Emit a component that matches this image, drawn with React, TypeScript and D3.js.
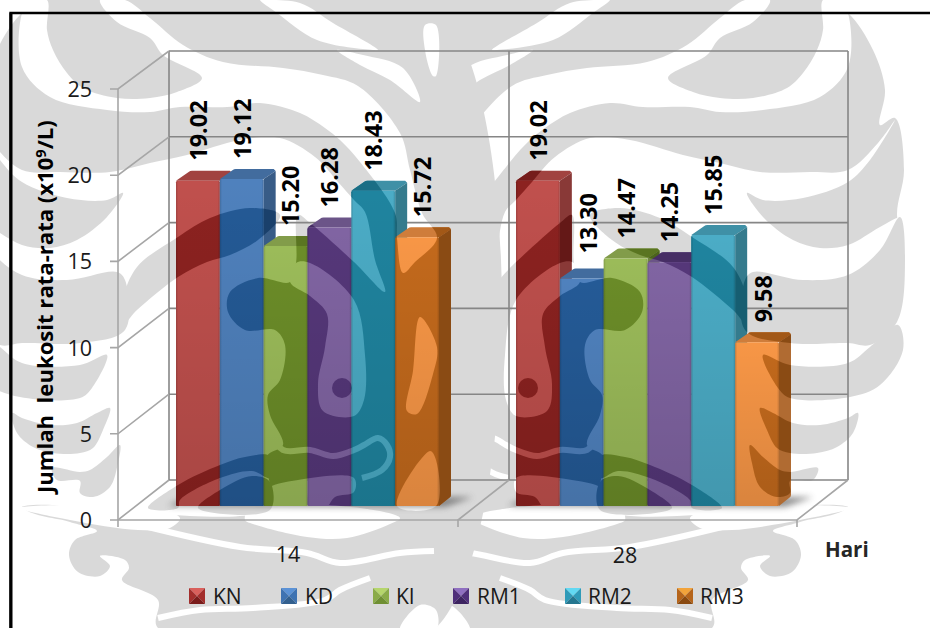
import React from "react";
import * as d3 from "d3";

// Observation days and treatment groups
const days = ["14", "28"];
const seriesNames = ["KN", "KD", "KI", "RM1", "RM2", "RM3"];
const valuesDay14 = [19.02, 19.12, 15.2, 16.28, 18.43, 15.72];
const valuesDay28 = [19.02, 13.3, 14.47, 14.25, 15.85, 9.58];
const labelsDay14 = ["19.02", "19.12", "15.20", "16.28", "18.43", "15.72"];
const labelsDay28 = ["19.02", "13.30", "14.47", "14.25", "15.85", "9.58"];
const yTicks = [0, 5, 10, 15, 20, 25];

const lightColors = ["#c0504d", "#4f81bd", "#9bbb59", "#8064a2", "#4bacc6", "#f79646"];
const darkColors = ["#8c2220", "#245a96", "#6b8c28", "#553779", "#1f849f", "#c2691c"];
const legendTops = ["#d9605c", "#5b92d6", "#b5d56c", "#8f6fc0", "#62d8f2", "#f2a33a"];
const legendSides = ["#a32e2c", "#3f73b2", "#8aab48", "#4f2f7a", "#2f9ab8", "#b5641a"];
const legendBottoms = ["#7a1c1b", "#33608f", "#6f8f33", "#3d2460", "#25768f", "#8a4a10"];

// Nudges of the rotated value labels away from their bar centres
const labelShiftX = [[0, 0, 4, 0, 0, 5], [0, 6, 0, 0, 0, 6]];
const labelShiftY = [[0, 0, 0, 0, 0, 0], [0, -5, 0, 0, 0, 0]];

// Outlines of the seal printed behind the page: right half, mirrored about the centre
type Pt = [number, number];
const sealOutline: Pt[] = [[434, 0], [823, 0], [848, 13], [873, 50], [885, 90], [880, 125], [895, 118], [904, 170], [897, 215], [906, 260], [898, 325], [903, 350], [880, 385], [858, 415], [850, 450], [850, 505], [800, 522], [773, 531], [795, 540], [801, 555], [792, 572], [770, 576], [760, 566], [770, 556], [745, 560], [741, 568], [748, 580], [712, 600], [712, 628], [434, 628]];
const sealGaps: Pt[][] = [
  [[433, 238], [448, 213], [460, 170], [470, 133], [512, 86], [547, 75], [587, 68], [647, 62], [687, 45], [720, 18], [745, 0], [770, 0], [753, 22], [720, 38], [707, 55], [668, 78], [693, 92], [720, 98], [753, 98], [787, 88], [803, 73], [817, 50], [823, 30], [823, 0], [840, 0], [848, 13], [848, 67], [820, 97], [763, 110], [720, 112], [690, 107], [643, 107], [610, 103], [570, 113], [545, 128], [530, 140], [510, 162], [475, 213], [473, 238], [467, 273], [455, 262]],
  [[505, 212], [516, 200], [532, 182], [555, 157], [590, 138], [630, 140], [683, 155], [720, 163], [760, 172], [810, 172], [848, 170], [878, 143], [895, 120], [870, 160], [848, 182], [803, 198], [763, 200], [747, 193], [763, 217], [793, 240], [820, 248], [848, 245], [880, 227], [900, 217], [912, 217], [912, 520], [850, 520], [850, 508], [603, 508], [603, 456], [587, 445], [600, 415], [602, 395], [590, 380], [585, 345], [595, 330], [625, 330], [642, 312], [640, 292], [612, 278], [580, 282], [574, 263], [572, 215], [560, 223], [516, 262], [485, 292], [495, 260]],
  [[505, 355], [516, 300], [560, 263], [574, 263], [580, 282], [560, 296], [543, 314], [545, 347], [552, 384], [547, 411], [516, 416], [506, 400]],
  [[492, 50], [537, 23], [570, 3], [607, 0], [610, 0], [593, 13], [553, 40], [497, 50]],
  [[450, 102], [467, 68], [507, 55], [533, 50], [510, 65], [480, 80]],
  [[434, 25], [445, 25], [445, 50], [437, 76], [434, 76]],
  [[516, 478], [572, 480], [604, 490], [604, 508], [545, 508], [535, 497], [516, 492]],
  [[510, 508], [620, 508], [625, 520], [617, 524], [563, 537], [523, 538], [480, 524], [470, 518]],
  [[722, 508], [850, 508], [800, 520], [732, 530], [700, 528], [690, 518]],
  [[434, 630], [434, 610], [450, 605], [470, 630]],
  [[450, 317], [433, 347], [437, 374], [453, 414], [463, 411], [457, 371]],
  [[473, 506], [440, 451], [434, 460], [434, 506]],
];
const sealThinGaps: Pt[][] = [
  [[508, 478], [488, 470], [480, 457], [483, 445], [492, 438], [506, 445], [516, 450], [537, 456], [560, 450], [587, 450], [600, 433]],
  [[436, 551], [470, 553], [530, 563], [563, 553], [630, 547], [730, 525]],
  [[500, 578], [530, 590], [545, 600], [617, 608], [670, 610], [712, 618]],
];
const sealPatches: Pt[][] = [
  [[590, 215], [620, 208], [660, 218], [692, 237], [733, 267], [747, 300], [745, 322], [733, 310], [692, 277], [663, 262], [640, 255], [612, 240]],
  [[745, 280], [753, 272], [803, 280], [848, 275], [880, 250], [900, 217], [905, 260], [897, 322], [870, 345], [848, 343], [790, 343], [745, 330]],
  [[763, 355], [790, 365], [848, 363], [870, 347], [898, 325], [903, 350], [880, 385], [850, 397], [790, 398], [778, 388]],
  [[760, 408], [773, 413], [793, 423], [820, 425], [848, 418], [858, 413], [853, 433], [837, 447], [817, 453], [790, 453], [777, 448], [767, 430]],
  [[750, 445], [763, 457], [780, 470], [790, 472], [818, 468], [813, 480], [790, 481], [790, 493], [777, 497], [760, 487], [752, 463]],
  [[600, 456], [625, 457], [650, 465], [692, 485], [722, 508], [692, 508], [690, 500], [650, 478], [618, 471], [600, 478]],
  [[600, 482], [618, 476], [650, 490], [672, 508], [600, 510]],
];

const closed = d3.line().curve(d3.curveCatmullRomClosed.alpha(0.5));
const open = d3.line().curve(d3.curveCatmullRom.alpha(0.5));

function SealHalf() {
  return (
    <g>
      <path d={closed(sealOutline) || ""} fill="#fff" />
      {sealGaps.map((g, i) => <path key={i} d={closed(g) || ""} fill="#000" />)}
      {sealThinGaps.map((g, i) => <path key={i} d={open(g) || ""} fill="none" stroke="#000" strokeWidth={6} />)}
      <circle cx={528} cy={388} r={10} fill="#fff" />
      {sealPatches.map((g, i) => <path key={i} d={closed(g) || ""} fill="#fff" />)}
    </g>
  );
}

const width = 930;
const height = 628;
const barBase = 506;
const depthX = 12;
const depthY = 10;
const plotFrontX = 118;
const plotBackX = 169;
const plotRightFront = 797;
const plotRightBack = 848;

const yFront = d3.scaleLinear().domain([0, 25]).range([520, 89]);
const yBack = d3.scaleLinear().domain([0, 25]).range([480, 51]);
const yBar = d3.scaleLinear().domain([0, 25]).range([barBase, barBase - 427.5]);
const xDay = d3.scaleBand().domain(days).range([176, 856]);
const xSeries = d3.scaleBand().domain(seriesNames).range([0, 263]);

const allValues = [valuesDay14, valuesDay28];
const allLabels = [labelsDay14, labelsDay28];

function BarLayer({ colors }: { colors: string[] }) {
  return (
    <g>
      {days.map((day, di) =>
        seriesNames.map((name, si) => {
          const x0 = (xDay(day) as number) + (xSeries(name) as number);
          const x1 = x0 + xSeries.bandwidth();
          const yT = yBar(allValues[di][si]);
          const c = d3.rgb(colors[si]);
          const top = `M${x0},${yT}L${x0 + depthX + 1},${yT - depthY + 1}Q${x0 + depthX + 2},${yT - depthY} ${x0 + depthX + 4},${yT - depthY}L${x1 + depthX - 2},${yT - depthY}L${x1 + depthX},${yT - depthY + 2}L${x1},${yT}Z`;
          const side = `M${x1},${yT}L${x1 + depthX},${yT - depthY + 2}L${x1 + depthX},${barBase - depthY - 1}Q${x1 + depthX},${barBase - depthY + 1} ${x1 + depthX - 2},${barBase - depthY + 2}L${x1},${barBase}Z`;
          return (
            <g key={`${day}-${name}`}>
              <path d={top} fill={c.darker(0.5).toString()} />
              <path d={side} fill={c.darker(0.95).toString()} />
              <rect x={x0} y={yT} width={x1 - x0} height={barBase - yT} fill={c.toString()} rx={1.5} />
              <rect x={x0} y={yT} width={x1 - x0} height={barBase - yT} fill="url(#frontDown)" rx={1.5} />
              <rect x={x0} y={yT} width={x1 - x0} height={barBase - yT} fill="url(#frontEdge)" rx={1.5} />
            </g>
          );
        })
      )}
    </g>
  );
}

const textFont = "'Open Sans', 'Noto Sans', sans-serif";
const gridColor = "#868686";
const axisColor = "#a6a6a6";

export default function App() {
  return (
    <svg width={width} height={height} viewBox={`0 0 ${width} ${height}`}
      style={{ position: "absolute", left: 0, top: 0, display: "block", background: "#fff" }}>
      <defs>
        <mask id="seal" maskUnits="userSpaceOnUse" x={0} y={0} width={width} height={height}>
          <SealHalf />
          <g transform="translate(870,0) scale(-1,1)"><SealHalf /></g>
        </mask>
        <linearGradient id="frontDown" x1="0" x2="0" y1="0" y2="1">
          <stop offset="0" stopColor="#000" stopOpacity="0" />
          <stop offset="1" stopColor="#000" stopOpacity="0.12" />
        </linearGradient>
        <linearGradient id="frontEdge" x1="0" x2="1" y1="0" y2="0">
          <stop offset="0" stopColor="#000" stopOpacity="0.16" />
          <stop offset="0.05" stopColor="#000" stopOpacity="0" />
          <stop offset="0.95" stopColor="#000" stopOpacity="0" />
          <stop offset="1" stopColor="#000" stopOpacity="0.16" />
        </linearGradient>
        <filter id="floorBlur" x="-30%" y="-100%" width="160%" height="300%">
          <feGaussianBlur stdDeviation="3" />
        </filter>
      </defs>

      {/* Seal behind the page content */}
      <rect width={width} height={height} fill="#d9d9d9" mask="url(#seal)" />

      {/* Page frame */}
      <path d="M930,13H10.5V628" fill="none" stroke="#000" strokeWidth={2.4} />
      <path d="M11,13V628" fill="none" stroke="#000" strokeWidth={3} />

      {/* Back wall, side wall and floor */}
      <g fill="none" stroke={gridColor} strokeWidth={1.6}>
        {yTicks.map((t) => (
          <path key={t} d={`M${plotBackX},${yBack(t)}H${plotRightBack}`} />
        ))}
        <path d={`M${plotBackX},${yBack(0)}V${yBack(25)}`} />
        <path d={`M509,${yBack(0)}V${yBack(25)}`} />
        <path d={`M${plotRightBack},${yBack(0)}V${yBack(25)}`} />
      </g>
      <g fill="none" stroke={axisColor} strokeWidth={1.6}>
        {yTicks.map((t) => (
          <path key={t} d={`M${plotFrontX - 8},${yFront(t)}H${plotFrontX}L${plotBackX},${yBack(t)}`} />
        ))}
        <path d={`M${plotFrontX},${yFront(25)}V527`} />
        <path d={`M${plotFrontX},520H${plotRightFront}L${plotRightBack},${yBack(0)}`} />
        <path d={`M458,527V520L509,${yBack(0)}`} />
        <path d={`M${plotRightFront},520V527`} />
      </g>

      {/* Soft floor shadows at the foot of each group */}
      {days.map((day) => {
        const x0 = xDay(day) as number;
        const x1 = x0 + 263;
        return <path key={day} filter="url(#floorBlur)" fill="#555" opacity={0.65}
          d={`M${x0 - 8},506L${x0 + 10},497H${x1 + 34}L${x1 + 6},507Z`} />;
      })}

      {/* Bars: plain colours, then their darker tone where the seal crosses them */}
      <BarLayer colors={lightColors} />
      <g mask="url(#seal)"><BarLayer colors={darkColors} /></g>

      {/* Value labels */}
      <g fontFamily={textFont} fontWeight={700} fontSize={23.5} fill="#000">
        {days.map((day, di) =>
          seriesNames.map((name, si) => {
            const x = (xDay(day) as number) + (xSeries(name) as number) + xSeries.bandwidth() / 2 + labelShiftX[di][si];
            const y = yBar(allValues[di][si]) - 20 + labelShiftY[di][si];
            return (
              <text key={`${day}-${name}`} transform={`translate(${x},${y}) rotate(-90)`} dominantBaseline="central">
                {allLabels[di][si]}
              </text>
            );
          })
        )}
      </g>

      {/* Axis text */}
      <g fontFamily={textFont} fontSize={21.5} fill="#1a1a1a">
        {yTicks.map((t) => (
          <text key={t} x={92} y={yFront(t) + 8} textAnchor="end">{t}</text>
        ))}
        <text x={288} y={562} textAnchor="middle">14</text>
        <text x={625} y={563} textAnchor="middle">28</text>
      </g>
      <text x={825} y={557} fontFamily={textFont} fontWeight={700} fontSize={20.5} fill="#262626">Hari</text>
      <text transform="translate(53,493) rotate(-90)" fontFamily={textFont} fontWeight={700} fontSize={22.1} fill="#000">
        <tspan xmlSpace="preserve">Jumlah  leukosit rata-rata (x10</tspan>
        <tspan dy={-7} fontSize={14.5}>9</tspan>
        <tspan dy={7}>/L)</tspan>
      </text>

      {/* Legend */}
      {seriesNames.map((name, i) => {
        const swatchX = [189, 281, 373, 453, 565, 677][i];
        const labelX = [213, 305, 396, 477, 588, 700][i];
        const s = 16;
        const y = 588;
        const cx = swatchX + s / 2;
        const cy = y + s / 2;
        return (
          <g key={name}>
            <path d={`M${swatchX},${y}H${swatchX + s}L${cx},${cy}Z`} fill={legendTops[i]} />
            <path d={`M${swatchX},${y}V${y + s}L${cx},${cy}Z`} fill={legendSides[i]} />
            <path d={`M${swatchX + s},${y}V${y + s}L${cx},${cy}Z`} fill={legendSides[i]} />
            <path d={`M${swatchX},${y + s}H${swatchX + s}L${cx},${cy}Z`} fill={legendBottoms[i]} />
            <text x={labelX} y={604} fontFamily={textFont} fontSize={21} fill="#1a1a1a">{name}</text>
          </g>
        );
      })}
    </svg>
  );
}
